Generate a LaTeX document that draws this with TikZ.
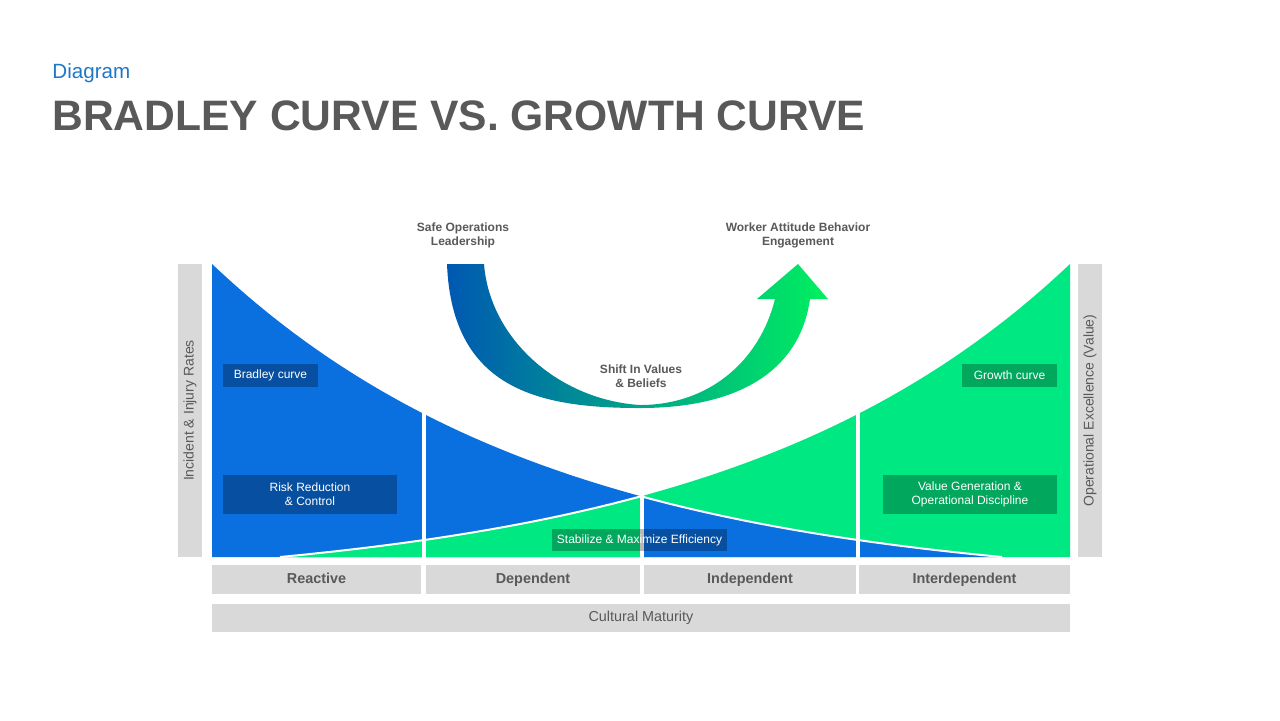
\documentclass[tikz,border=0pt]{standalone}
\usepackage{fontspec}
\setmainfont{Liberation Sans}
\definecolor{bradleyblue}{RGB}{10,112,224}
\definecolor{growthgreen}{RGB}{0,232,130}
\definecolor{bargray}{RGB}{217,217,217}
\definecolor{textgray}{RGB}{89,89,89}
\definecolor{titleblue}{RGB}{30,120,200}
\definecolor{arrowleft}{RGB}{0,88,178}
\definecolor{arrowmid}{RGB}{0,140,150}
\definecolor{arrowright}{RGB}{0,240,95}

\begin{document}
\begin{tikzpicture}[x=0.5pt,y=-0.5pt,
  declare function={bradley(\x)=557-293*(exp(-2.5*(\x-212)/858)-0.1)/0.9;
                    growth(\x)=557-293*(exp(-2.5*(1070-\x)/858)-0.1)/0.9;}]
			\tikzstyle{tag} = [fill=black,fill opacity=0.28,text opacity=1,text=white,align=center,inner sep=0pt,font=\fontsize{6}{7}\selectfont];
			\tikzstyle{stage} = [fill=bargray,text=textgray,inner sep=0pt,text height=5.3pt,text depth=1.5pt,font=\bfseries\fontsize{7.2}{8.6}\selectfont];
			\tikzstyle{axisbar} = [fill=bargray,text=textgray,inner sep=0pt,rotate=90,minimum width=146.5pt,minimum height=12pt,font=\fontsize{7}{8.4}\selectfont];
			\tikzstyle{note} = [text=textgray,align=center,inner sep=0pt,font=\bfseries\fontsize{6}{7}\selectfont];
			\useasboundingbox (0,0) rectangle (1280,720);
			\fill[white] (0,0) rectangle (1280,720);
			% title
			\node[anchor=base west,inner sep=0pt,text=titleblue,font=\fontsize{10.3}{12}\selectfont] (kicker) at (52,78) {Diagram};
			\node[anchor=base west,inner sep=0pt,text=textgray,font=\bfseries\fontsize{21.3}{25}\selectfont] (title) at (52,130) {BRADLEY CURVE VS. GROWTH CURVE};
			% left half: growth curve over bradley curve
			\begin{scope}
				\clip (212,250) rectangle (642,557);
				\fill[bradleyblue] (212,557) -- plot[domain=212:642,samples=60] (\x,{bradley(\x)}) -- (642,557) -- cycle;
				\fill[growthgreen] (280,557) -- plot[domain=280:642,samples=60] (\x,{growth(\x)}) -- (642,557) -- cycle;
				\draw[white,line width=1pt] plot[domain=280:642,samples=60] (\x,{growth(\x)});
			\end{scope}
			% right half: bradley curve over growth curve
			\begin{scope}
				\clip (642,250) rectangle (1070,557);
				\fill[growthgreen] (642,557) -- plot[domain=642:1070,samples=60] (\x,{growth(\x)}) -- (1070,557) -- cycle;
				\fill[bradleyblue] (642,557) -- plot[domain=642:1002,samples=60] (\x,{bradley(\x)}) -- (1002,557) -- cycle;
				\draw[white,line width=1pt] plot[domain=642:1002,samples=60] (\x,{bradley(\x)});
			\end{scope}
			\foreach \gap in {423.5,642,857.5}
				\draw[white,line width=2pt] (\gap,258) -- (\gap,562);
			% shift arrow
			\shade[left color=arrowleft,middle color=arrowmid,right color=arrowright]
				(447,264) .. controls (452,390) and (540,408) .. (640,408)
				.. controls (740,408) and (800,370) .. (810,299)
				-- (828,299) -- (798,264) -- (757,299) -- (775,299)
				.. controls (760,360) and (710,405) .. (640,405)
				.. controls (560,400) and (490,340) .. (484,264) -- cycle;
			\node[note] (safe) at (463,235) {Safe Operations\\Leadership};
			\node[note] (worker) at (798,235) {Worker Attitude Behavior\\Engagement};
			\node[note] (shift) at (641,376) {Shift In Values\\\& Beliefs};
			% tags
			\node[tag,minimum width=47.5pt,minimum height=11.5pt] (bradleytag) at (270.5,375.5) {Bradley curve};
			\node[tag,minimum width=87pt,minimum height=19.5pt] (risk) at (310,494.5) {Risk Reduction\\\& Control};
			\node[tag,minimum width=47.5pt,minimum height=11.5pt] (growthtag) at (1009.5,375.5) {Growth curve};
			\node[tag,minimum width=87pt,minimum height=19.5pt] (value) at (970,494.5) {Value Generation \&\\Operational Discipline};
			\node[tag,minimum width=87.5pt,minimum height=11pt] (stabilize) at (639.5,540) {Stabilize \& Maximize Efficiency};
			% axes
			\node[axisbar] (incident) at (190,410.5) {Incident \& Injury Rates};
			\node[axisbar] (excellence) at (1090,410.5) {Operational Excellence (Value)};
			% stages
			\node[stage,minimum width=104.5pt,minimum height=14.5pt] (reactive) at (316.5,579.5) {Reactive};
			\node[stage,minimum width=107pt,minimum height=14.5pt] (dependent) at (533,579.5) {Dependent};
			\node[stage,minimum width=106pt,minimum height=14.5pt] (independent) at (750,579.5) {Independent};
			\node[stage,minimum width=105.5pt,minimum height=14.5pt] (interdependent) at (964.5,579.5) {Interdependent};
			\node[stage,font=\fontsize{7.2}{8.6}\selectfont,minimum width=429pt,minimum height=14pt] (maturity) at (641,618) {Cultural Maturity};
		\end{tikzpicture}
\end{document}
